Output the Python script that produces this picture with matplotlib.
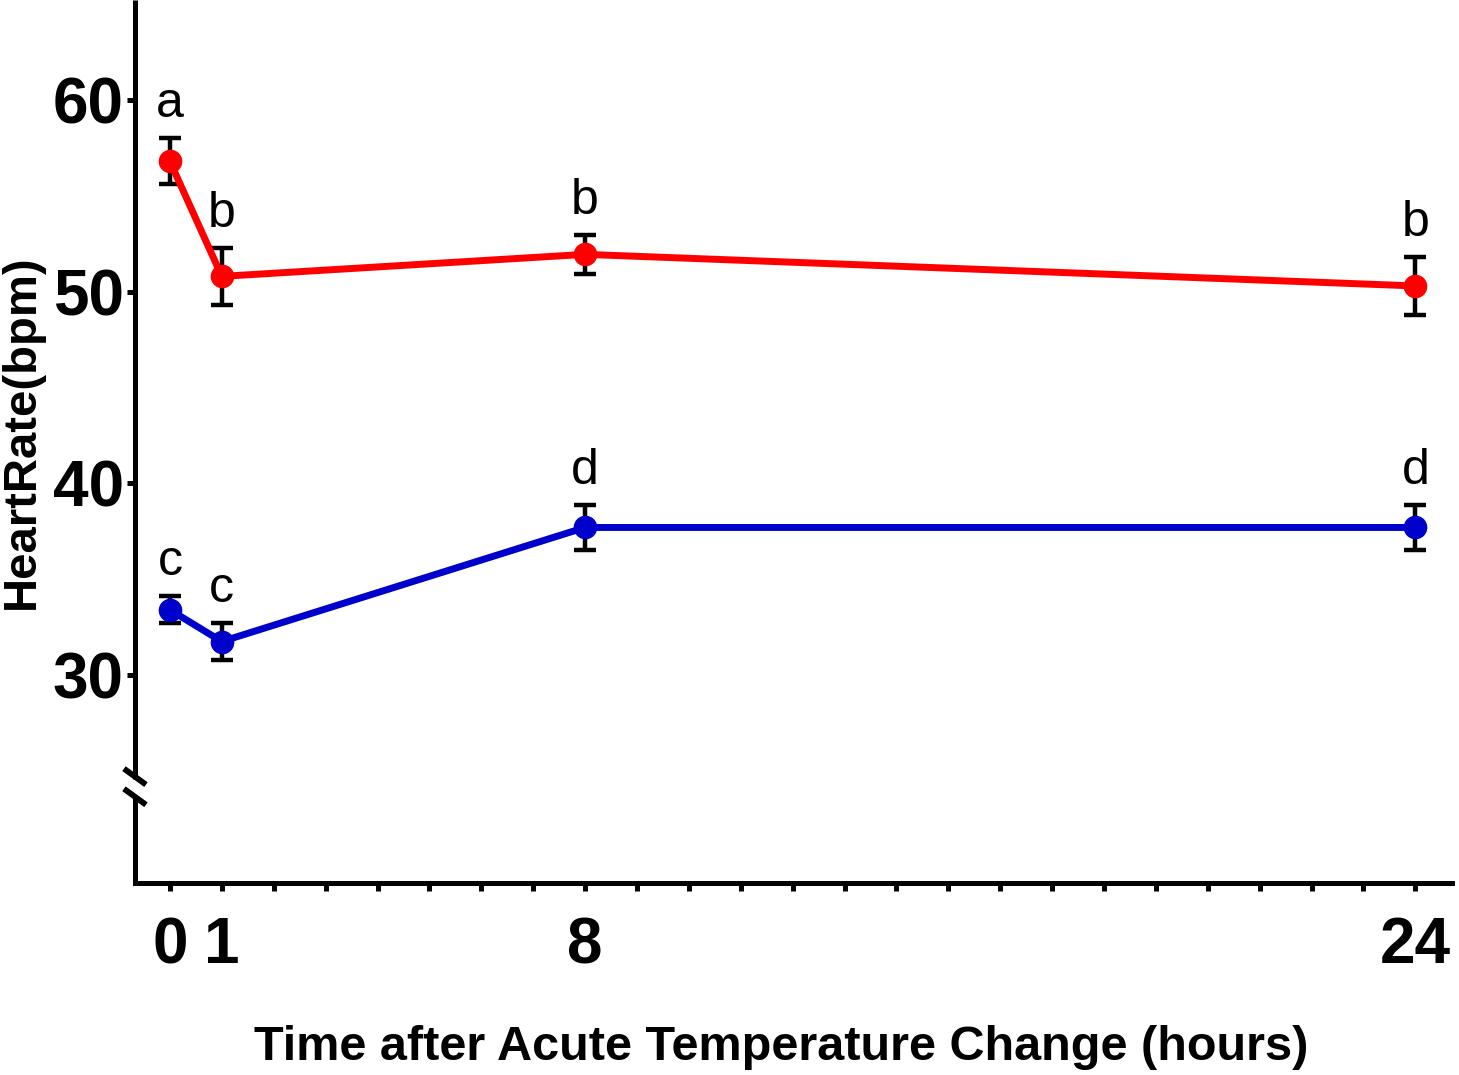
import matplotlib
matplotlib.use("Agg")
import matplotlib.pyplot as plt
import numpy as np

plt.rcParams['font.family'] = ['Liberation Sans', 'DejaVu Sans']

# Sampling times (hours) and heart rate (mean ± SEM)
hours = [0, 1, 8, 24]
warm_mean = [56.8, 50.8, 51.95, 50.3]
warm_sem = [1.2, 1.5, 1.0, 1.5]
warm_letters = ['a', 'b', 'b', 'b']
cold_mean = [33.4, 31.75, 37.7, 37.7]
cold_sem = [0.7, 0.95, 1.15, 1.15]
cold_letters = ['c', 'c', 'd', 'd']

x_ticklabels = {0: '0', 1: '1', 8: '8', 24: '24'}
y_ticks = [30, 40, 50, 60]

W, H = 1459, 1075
fig = plt.figure(figsize=(W / 100, H / 100), dpi=100)
ax = fig.add_axes([0.0925, 0.1786, 0.9025, 0.8214])
ax.set_xlim(-0.674, 24.70)
ax.set_ylim(19.15, 65.22)

for mean, sem, letters, color in [(warm_mean, warm_sem, warm_letters, '#ff0000'),
                                  (cold_mean, cold_sem, cold_letters, '#0000cc')]:
    ax.errorbar(hours, mean, yerr=sem, fmt='none', ecolor='black', elinewidth=3.2,
                capsize=8, capthick=3.2, zorder=2)
    ax.plot(hours, mean, color=color, lw=5, marker='o', markersize=16, zorder=3)
    for h, m, s, lab in zip(hours, mean, sem, letters):
        ax.annotate(lab, (h, m + s), xytext=(0, 8), textcoords='offset points',
                    ha='center', va='bottom', fontsize=36, color='black')

# Axes styling
for side in ['top', 'right', 'left']:
    ax.spines[side].set_visible(False)
ax.spines['bottom'].set_linewidth(3.6)

ax.set_xticks(np.arange(0, 25, 1))
ax.set_xticklabels([x_ticklabels.get(i, '') for i in range(25)])
ax.set_yticks(y_ticks)
ax.set_yticklabels([str(v) for v in y_ticks])
ax.tick_params(axis='both', width=3.6, length=6, labelsize=46)
ax.tick_params(axis='x', pad=18)
ax.tick_params(axis='y', pad=2)
for lab in ax.get_xticklabels() + ax.get_yticklabels():
    lab.set_fontweight('bold')

# Left spine drawn in two pieces with a break
ytr = ax.get_yaxis_transform()
lw_sp = 3.6
brk_lo, brk_hi = 23.45, 24.6
ax.plot([0, 0], [19.15, brk_lo], transform=ytr, color='black', lw=lw_sp,
        clip_on=False, solid_capstyle='projecting', zorder=5)
ax.plot([0, 0], [brk_hi, 65.22], transform=ytr, color='black', lw=lw_sp,
        clip_on=False, solid_capstyle='butt', zorder=5)
dx = 11 / 1317
dy = 8 / 19.17
for yc in [24.7, 23.65]:
    ax.plot([-dx, dx], [yc + dy, yc - dy], transform=ytr, color='black',
            lw=lw_sp + 0.6, clip_on=False, solid_capstyle='butt', zorder=5)

# Axis titles
fig.text(781 / W, 1 - 1048 / H, 'Time after Acute Temperature Change (hours)',
         fontsize=35, fontweight='bold', ha='center', va='center')
fig.text(22 / W, 1 - 432 / H, 'HeartRate(bpm)', fontsize=34, fontweight='bold',
         rotation=90, ha='center', va='center')

fig.savefig('out.png', dpi=100)
